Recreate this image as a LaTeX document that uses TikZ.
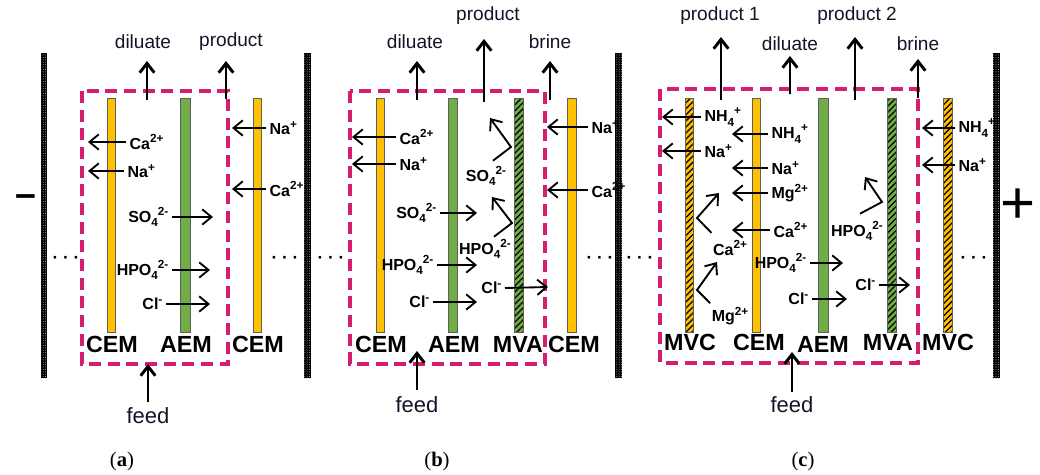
\documentclass[tikz,border=0pt]{standalone}
\usepackage{fontspec}
\setmainfont{Liberation Sans}
\newfontfamily\capfont{Liberation Serif}
\usetikzlibrary{arrows.meta,patterns.meta}
\definecolor{memY}{RGB}{255,192,0}
\definecolor{memG}{RGB}{112,173,71}
\definecolor{boxP}{RGB}{214,30,112}
\definecolor{memEdge}{RGB}{95,95,95}
\definecolor{txt}{RGB}{20,20,40}
\newcommand\upx[1]{\raisebox{0.42em}{\fontsize{8.8}{8.8}\selectfont #1}}
\newcommand\dnx[1]{\raisebox{-0.28em}{\fontsize{8.8}{8.8}\selectfont #1}}
\tikzset{
  membrane/.style={draw=memEdge, line width=0.6pt},
  cem/.style={membrane, fill=memY},
  aem/.style={membrane, fill=memG},
  mvc/.style={membrane, preaction={fill=memY}, pattern={Lines[angle=45,distance=3.2pt,line width=0.95pt]}, pattern color=black},
  mva/.style={membrane, preaction={fill=memG}, pattern={Lines[angle=45,distance=3.2pt,line width=0.95pt]}, pattern color=black},
  electrode/.style={preaction={fill=black}, pattern={Dots[distance=1.8pt,radius=0.4pt]}, pattern color=gray!70},
  cellbox/.style={draw=boxP, line width=2.4pt, dash pattern=on 9pt off 5pt},
  flow/.style={draw=black, line width=2.2pt, -{Straight Barb[length=7pt,width=11pt]}},
  ionarr/.style={draw=black, line width=1.4pt, -{Straight Barb[length=7pt,width=11.5pt]}},
  flowlbl/.style={font=\fontsize{14.3}{15}\selectfont, inner sep=1pt, text=txt},
  feedlbl/.style={font=\fontsize{16.5}{17}\selectfont, inner sep=1pt, text=txt},
  memlbl/.style={font=\bfseries\fontsize{17.5}{17.5}\selectfont, inner sep=0pt},
  ion/.style={font=\bfseries\fontsize{12}{12}\selectfont, inner xsep=2.5pt, inner ysep=1pt},
  dotsl/.style={font=\bfseries\fontsize{13}{13}\selectfont, inner sep=0pt},
  capt/.style={font=\capfont\fontsize{15.5}{16}\selectfont, inner sep=0pt},
  pole/.style={inner sep=0pt},
}
\begin{document}
\begin{tikzpicture}[x=0.75pt, y=-0.75pt]
\useasboundingbox (0,0) rectangle (1040,475);
% electrodes and poles
\path[electrode] (41,53) rectangle (47,378);
\path[electrode] (304,53) rectangle (311,378);
\path[electrode] (615,53) rectangle (622,378);
\path[electrode] (993,53) rectangle (1000,378);
\node[pole, font=\bfseries\fontsize{28}{28}\selectfont] (minus) at (26,201) {–};
\node[pole, font=\fontsize{45}{45}\selectfont] (plus) at (1018,206) {+};

% ================= panel (a) =================
\path[cem] (107,98) rectangle (115,332);
\path[aem] (180,98) rectangle (190,332);
\path[cem] (253,98) rectangle (261,332);
\draw[cellbox] (82,91) rectangle (228,364);
\node[memlbl] (aL1) at (112,344) {CEM};
\node[memlbl] (aL2) at (186,344) {AEM};
\node[memlbl] (aL3) at (258,344) {CEM};
\node[flowlbl] (aDil) at (143,42) {diluate};
\node[flowlbl] (aProd) at (231,42) {product};
\coordinate (aDs) at (147,100); \coordinate (aDt) at (147,61);
\coordinate (aPs) at (226,99); \coordinate (aPt) at (226,61);
\draw[flow] (aDs) -- (aDt);
\draw[flow] (aPs) -- (aPt);
\node[feedlbl] (aFeed) at (148,416) {feed};
\coordinate (aFs) at (148,402); \coordinate (aFt) at (148,364);
\draw[flow] (aFs) -- (aFt);
\node[ion, anchor=west] (aCa) at (126,142) {Ca\upx{2+}};
\node[ion, anchor=west] (aNa) at (124,171) {Na\upx{+}};
\node[ion, anchor=west] (aNaR) at (266,128) {Na\upx{+}};
\node[ion, anchor=west] (aCaR) at (266,189) {Ca\upx{2+}};
\coordinate (aCaT) at (88,142); \coordinate (aNaT) at (88,171);
\coordinate (aNaRT) at (232,128); \coordinate (aCaRT) at (232,189);
\draw[ionarr] (aCa.west) -- (aCaT);
\draw[ionarr] (aNa.west) -- (aNaT);
\draw[ionarr] (aNaR.west) -- (aNaRT);
\draw[ionarr] (aCaR.west) -- (aCaRT);
\node[ion, anchor=east] (aSO) at (172,217) {SO\dnx{4}\upx{2-}};
\node[ion, anchor=east] (aHP) at (172,270) {HPO\dnx{4}\upx{2-}};
\node[ion, anchor=east] (aCl) at (166,304) {Cl\upx{-}};
\coordinate (aSOT) at (213,217); \coordinate (aHPT) at (210,270); \coordinate (aClT) at (210,304);
\draw[ionarr] (aSO.east) -- (aSOT);
\draw[ionarr] (aHP.east) -- (aHPT);
\draw[ionarr] (aCl.east) -- (aClT);
\node[dotsl] (aDotL) at (66,260) {· · ·};
\node[dotsl] (aDotR) at (285,260) {· · ·};
\node[capt] (capA) at (122,462) {(\textbf{a})};

% ================= panel (b) =================
\path[cem] (376,98) rectangle (384,332);
\path[aem] (448,98) rectangle (457,332);
\path[mva] (514,98) rectangle (523,332);
\path[cem] (567,98) rectangle (576,332);
\draw[cellbox] (350,91) rectangle (545,364);
\node[memlbl] (bL1) at (381,344) {CEM};
\node[memlbl] (bL2) at (454,344) {AEM};
\node[memlbl] (bL3) at (518,344) {MVA};
\node[memlbl] (bL4) at (574,344) {CEM};
\node[flowlbl] (bDil) at (415,42) {diluate};
\node[flowlbl] (bProd) at (488,16) {product};
\node[flowlbl] (bBrine) at (550,42) {brine};
\coordinate (bDs) at (417,100); \coordinate (bDt) at (417,61);
\coordinate (bPs) at (484,102); \coordinate (bPt) at (484,39);
\coordinate (bBs) at (550,100); \coordinate (bBt) at (550,61);
\draw[flow] (bDs) -- (bDt);
\draw[flow] (bPs) -- (bPt);
\draw[flow] (bBs) -- (bBt);
\node[feedlbl] (bFeed) at (417,405) {feed};
\coordinate (bFs) at (417,390); \coordinate (bFt) at (417,351);
\draw[flow] (bFs) -- (bFt);
\node[ion, anchor=west] (bCa) at (396,137) {Ca\upx{2+}};
\node[ion, anchor=west] (bNa) at (396,164) {Na\upx{+}};
\node[ion, anchor=west] (bNaR) at (588,127) {Na\upx{+}};
\node[ion, anchor=west] (bCaR) at (588,190) {Ca\upx{2+}};
\coordinate (bCaT) at (352,137); \coordinate (bNaT) at (352,164);
\coordinate (bNaRT) at (547,127); \coordinate (bCaRT) at (547,190);
\draw[ionarr] (bCa.west) -- (bCaT);
\draw[ionarr] (bNa.west) -- (bNaT);
\draw[ionarr] (bNaR.west) -- (bNaRT);
\draw[ionarr] (bCaR.west) -- (bCaRT);
\node[ion, anchor=east] (bSO) at (440,213) {SO\dnx{4}\upx{2-}};
\node[ion, anchor=east] (bHP) at (437,265) {HPO\dnx{4}\upx{2-}};
\node[ion, anchor=east] (bCl) at (433,302) {Cl\upx{-}};
\coordinate (bSOT) at (477,213); \coordinate (bHPT) at (477,265); \coordinate (bClT) at (477,302);
\draw[ionarr] (bSO.east) -- (bSOT);
\draw[ionarr] (bHP.east) -- (bHPT);
\draw[ionarr] (bCl.east) -- (bClT);
% bounced anions at MVA
\node[ion] (bSO2) at (486,176) {SO\dnx{4}\upx{2-}};
\coordinate (bSOc) at (511,147); \coordinate (bSOt2) at (490,118);
\draw[ionarr] ([shift={(7,-4)}]bSO2.north) -- (bSOc) -- (bSOt2);
\node[ion] (bHP2) at (485,249) {HPO\dnx{4}\upx{2-}};
\coordinate (bHPc) at (512,223); \coordinate (bHPt2) at (492,197);
\draw[ionarr] ([shift={(9,-1)}]bHP2.north) -- (bHPc) -- (bHPt2);
\node[ion, anchor=east] (bCl2) at (505,288) {Cl\upx{-}};
\coordinate (bClT2) at (548,287);
\draw[ionarr] (bCl2.east) -- (bClT2);
\node[dotsl] (bDotL) at (331,260) {· · ·};
\node[dotsl] (bDotR) at (600,260) {· · ·};
\node[capt] (capB) at (437,462) {(\textbf{b})};

% ================= panel (c) =================
\path[mvc] (685,98) rectangle (693,332);
\path[cem] (752,98) rectangle (760,332);
\path[aem] (818,98) rectangle (828,332);
\path[mva] (887,98) rectangle (896,332);
\path[mvc] (943,98) rectangle (952,332);
\draw[cellbox] (660,89) rectangle (918,363);
\node[memlbl] (cL1) at (690,342) {MVC};
\node[memlbl] (cL2) at (759,342) {CEM};
\node[memlbl] (cL3) at (823,344) {AEM};
\node[memlbl] (cL4) at (888,342) {MVA};
\node[memlbl] (cL5) at (948,342) {MVC};
\node[flowlbl] (cP1) at (720,16) {product 1};
\node[flowlbl] (cDil) at (790,44) {diluate};
\node[flowlbl] (cP2) at (857,16) {product 2};
\node[flowlbl] (cBrine) at (918,44) {brine};
\coordinate (cP1s) at (721,100); \coordinate (cP1t) at (721,37);
\coordinate (cDs) at (790,94); \coordinate (cDt) at (790,56);
\coordinate (cP2s) at (855,100); \coordinate (cP2t) at (855,37);
\coordinate (cBs) at (918,98); \coordinate (cBt) at (918,59);
\draw[flow] (cP1s) -- (cP1t);
\draw[flow] (cDs) -- (cDt);
\draw[flow] (cP2s) -- (cP2t);
\draw[flow] (cBs) -- (cBt);
\node[feedlbl] (cFeed) at (792,405) {feed};
\coordinate (cFs) at (792,392); \coordinate (cFt) at (792,352);
\draw[flow] (cFs) -- (cFt);
% cations
\node[ion, anchor=west] (cNH) at (701,117) {NH\dnx{4}\upx{+}};
\node[ion, anchor=west] (cNa) at (701,151) {Na\upx{+}};
\coordinate (cNHT) at (662,117); \coordinate (cNaT) at (662,151);
\draw[ionarr] (cNH.west) -- (cNHT);
\draw[ionarr] (cNa.west) -- (cNaT);
\node[ion, anchor=west] (cNH2) at (768,134) {NH\dnx{4}\upx{+}};
\node[ion, anchor=west] (cNa2) at (768,168) {Na\upx{+}};
\node[ion, anchor=west] (cMg2) at (768,193) {Mg\upx{2+}};
\node[ion, anchor=west] (cCa2) at (770,230) {Ca\upx{2+}};
\coordinate (cNH2T) at (732,134); \coordinate (cNa2T) at (732,168);
\coordinate (cMg2T) at (732,193); \coordinate (cCa2T) at (732,230);
\draw[ionarr] (cNH2.west) -- (cNH2T);
\draw[ionarr] (cNa2.west) -- (cNa2T);
\draw[ionarr] (cMg2.west) -- (cMg2T);
\draw[ionarr] (cCa2.west) -- (cCa2T);
% bounced cations at MVC
\node[ion] (cCaB) at (730,248) {Ca\upx{2+}};
\coordinate (cCac) at (697,218); \coordinate (cCat) at (719,193);
\draw[ionarr] ([shift={(2,-6)}]cCaB.north west) -- (cCac) -- (cCat);
\node[ion] (cMgB) at (730,316) {Mg\upx{2+}};
\coordinate (cMgc) at (697,290); \coordinate (cMgt) at (717,262);
\draw[ionarr] ([shift={(2,-2)}]cMgB.north west) -- (cMgc) -- (cMgt);
% anions
\node[ion, anchor=east] (cHP) at (810,263) {HPO\dnx{4}\upx{2-}};
\node[ion, anchor=east] (cCl) at (812,299) {Cl\upx{-}};
\coordinate (cHPT) at (843,263); \coordinate (cClT) at (847,299);
\draw[ionarr] (cHP.east) -- (cHPT);
\draw[ionarr] (cCl.east) -- (cClT);
\node[ion] (cHPB) at (857,231) {HPO\dnx{4}\upx{2-}};
\coordinate (cHPc) at (882,202); \coordinate (cHPt2) at (865,177);
\draw[ionarr] ([shift={(3,-6)}]cHPB.north) -- (cHPc) -- (cHPt2);
\node[ion, anchor=east] (cCl2) at (879,285) {Cl\upx{-}};
\coordinate (cCl2T) at (910,285);
\draw[ionarr] (cCl2.east) -- (cCl2T);
% right MVC cations
\node[ion, anchor=west] (cNHR) at (955,128) {NH\dnx{4}\upx{+}};
\node[ion, anchor=west] (cNaR) at (955,165) {Na\upx{+}};
\coordinate (cNHRT) at (922,128); \coordinate (cNaRT) at (922,165);
\draw[ionarr] (cNHR.west) -- (cNHRT);
\draw[ionarr] (cNaR.west) -- (cNaRT);
\node[dotsl] (cDotL) at (640,260) {· · ·};
\node[dotsl] (cDotR) at (974,260) {· · ·};
\node[capt] (capC) at (803,462) {(\textbf{c})};
\end{tikzpicture}
\end{document}
